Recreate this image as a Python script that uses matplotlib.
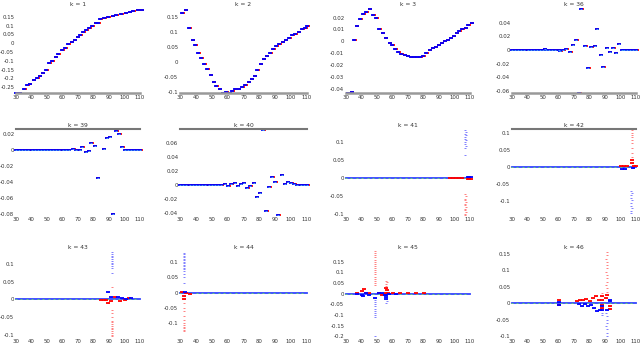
import numpy as np
import matplotlib
matplotlib.use("Agg")
import matplotlib.pyplot as plt

# ---- smooth eigenvectors (k = 1, 2, 3) ----
k1_x = [30, 32.5, 35.1, 37.2, 38.9, 41.4, 43.7, 45.4, 47.3, 49.4, 51.5, 53.4, 55.5, 57.4, 59.6,
        61.7, 63.8, 65.9, 67.8, 69.7, 71.6, 73.5, 75.4, 77.3, 79.2, 81.3, 83.2, 84.3, 86.8, 89.5,
        92.3, 94.8, 98.0, 100.7, 103.3, 105.8, 108.5, 111]
k1_y = [-0.283, -0.283, -0.259, -0.239, -0.232, -0.210, -0.199, -0.186, -0.170, -0.152, -0.115,
        -0.101, -0.079, -0.061, -0.039, -0.025, -0.006, 0.006, 0.021, 0.034, 0.046, 0.061, 0.074,
        0.088, 0.099, 0.114, 0.117, 0.135, 0.143, 0.150, 0.157, 0.163, 0.166, 0.172, 0.177, 0.181,
        0.186, 0.190]

k2_x = [31.5, 33.5, 35.6, 37.9, 39.6, 41.6, 43.5, 45.4, 47.2, 49.3, 51.2, 52.9, 55.1, 57.0, 59.1,
        61.2, 62.8, 64.9, 67.0, 69.1, 71.1, 73.2, 75.1, 77.0, 78.8, 80.9, 82.8, 84.6, 86.7, 88.6,
        90.7, 92.5, 94.6, 96.5, 98.6, 100.6, 102.7, 104.8, 106.9, 108.9, 110]
k2_y = [0.165, 0.174, 0.114, 0.075, 0.057, 0.030, 0.014, -0.008, -0.024, -0.043, -0.068, -0.082,
        -0.092, -0.104, -0.100, -0.103, -0.098, -0.092, -0.090, -0.085, -0.078, -0.068, -0.057,
        -0.046, -0.026, -0.006, 0.011, 0.021, 0.030, 0.043, 0.054, 0.061, 0.066, 0.073, 0.082,
        0.089, 0.095, 0.102, 0.109, 0.115, 0.120]

k3_x = [31.1, 33.6, 35.3, 37.0, 39.2, 41.1, 43.2, 45.4, 47.5, 49.6, 51.5, 53.7, 55.6, 58.2, 59.7,
        61.6, 63.7, 65.8, 67.8, 69.9, 72.0, 73.9, 75.9, 78.0, 79.9, 81.8, 84.0, 85.9, 87.8, 89.7,
        91.7, 93.6, 95.7, 97.6, 99.5, 101.5, 103.2, 105.1, 107.2, 108.9, 111]
k3_y = [-0.043, -0.042, 0.0016, 0.0127, 0.019, 0.0227, 0.0243, 0.0268, 0.0219, 0.020, 0.0105,
        0.007, 0.003, -0.0011, -0.0032, -0.006, -0.0086, -0.0105, -0.0113, -0.0119, -0.0127,
        -0.0132, -0.0132, -0.0127, -0.0119, -0.010, -0.0076, -0.0054, -0.0046, -0.003, -0.0011,
        0.0003, 0.0016, 0.0027, 0.0043, 0.007, 0.0086, 0.010, 0.0114, 0.0135, 0.0154]

# ---- sparse eigenvectors (k = 36, 39, 40) ----
k36_x = [30, 32, 34, 36, 38, 40, 42, 44, 46, 48, 50, 51.1, 52, 54, 56, 58, 60, 61.2, 63, 65, 67.5,
         69.2, 71.3, 73.4, 74.8, 77.2, 79.1, 81.2, 83.3, 84.7, 87.1, 89.0, 91.1, 93.0, 95.1, 97.0,
         98.8, 101.2, 102, 104, 106, 108, 110]
k36_y = [0, 0, 0, 0, 0, 0, 0, 0, 0, 0, 0, 0.001, 0, 0, 0, 0, 0, -0.0014, 0, 0.001, -0.0033,
         0.0066, 0.014, -0.063, 0.060, 0.0052, -0.026, 0.0038, 0.0052, 0.0307, -0.0071, -0.0245,
         0.0024, -0.0038, 0.0033, -0.0052, 0.0085, 0, 0, 0, 0, 0, 0]

k39_x = [30, 32, 34, 36, 38, 40, 42, 44, 46, 48, 50, 52, 54, 56, 58, 60, 62, 64, 67, 69, 71,
         72.9, 75, 76.9, 78.6, 80.7, 82.8, 84.9, 86.5, 88.6, 90.5, 92.4, 94.5, 96.4, 98.7, 100.6,
         102, 104, 106, 108, 110]
k39_y = [0, 0, 0, 0, 0, 0, 0, 0, 0, 0, 0, 0, 0, 0, 0, 0, 0, 0, 0.0017, 0, 0, 0.0037, -0.0025,
         -0.0012, 0.0083, 0.0054, -0.0354, 0.0254, 0.0017, 0.0146, 0.0163, -0.080, 0.0238,
         0.0192, 0.0042, 0, 0, 0, 0, 0, 0]

k40_x = [30, 32, 34, 36, 38, 40, 42, 44, 46, 48, 50, 52, 54, 56, 58.1, 60.3, 62.4, 64.5, 66.4,
         68.3, 70.2, 72.3, 74.2, 76.3, 78.3, 80.2, 82.3, 84.2, 86.3, 88.2, 89.9, 92.0, 94.1, 96.0,
         97.9, 100.1, 102, 104, 106, 108, 110]
k40_y = [0, 0, 0, 0, 0, 0, 0, 0, 0, 0, 0, 0, 0, 0, 0.001, -0.0014, 0.0005, 0.0019, -0.0024,
         0.0005, 0.0029, -0.005, -0.0014, 0.0029, -0.018, -0.0124, 0.0786, -0.0376, -0.0038,
         0.011, 0.0043, -0.0433, 0.0133, 0.001, 0.0033, 0.0024, 0.001, 0, 0, 0, 0]

# ---- localized eigenvectors (k = 41 ... 46): spikes on a zero baseline ----
k41_blue_x = [107.0, 107.2, 106.9, 107.1, 107.0, 106.8, 107.2, 107.0, 106.9, 107.1, 107.0, 106.8,
              108.5, 109.5, 110.5]
k41_blue_y = [0.132, 0.127, 0.122, 0.118, 0.113, 0.108, 0.104, 0.098, 0.094, 0.088, 0.081, 0.062,
              0.002, 0.002, 0.002]
k41_red_x = [106.9, 107.1, 107.0, 106.8, 107.2, 107.0, 106.9, 107.1, 107.0, 106.8, 107.2, 107.0,
             106.9, 97, 99, 101, 103, 105, 108.5, 109.5, 110.5]
k41_red_y = [-0.046, -0.052, -0.058, -0.063, -0.068, -0.072, -0.077, -0.082, -0.087, -0.091,
             -0.096, -0.101, -0.105, -0.002, -0.002, -0.002, -0.002, -0.002, -0.003, -0.003, -0.003]

k42_red_x = [107.3, 107.2, 107.4, 107.3, 107.2, 107.4, 107.3, 107.2, 107.3, 107.4, 107.3,
             100, 102, 104, 109, 110]
k42_red_y = [0.108, 0.100, 0.095, 0.088, 0.080, 0.072, 0.055, 0.042, 0.030, 0.020, 0.012,
             0.003, 0.004, 0.003, 0.004, 0.003]
k42_blue_x = [107.0, 107.1, 106.9, 107.0, 107.1, 106.9, 107.0, 107.1, 107.0, 106.9,
              101, 103, 108]
k42_blue_y = [-0.070, -0.075, -0.082, -0.090, -0.097, -0.104, -0.112, -0.120, -0.128, -0.135,
              -0.004, -0.005, -0.003]

k43_blue_x = [92.0, 92.2, 91.9, 92.1, 92.0, 92.2, 91.9, 92.1, 92.0, 92.2, 91.9,
              89.5, 91, 95.5, 98.5, 101, 104]
k43_blue_y = [0.135, 0.130, 0.125, 0.120, 0.115, 0.110, 0.105, 0.100, 0.095, 0.090, 0.075,
              0.020, 0.006, 0.008, 0.004, 0.002, 0.005]
k43_red_x = [92.1, 92.0, 92.2, 91.9, 92.1, 92.0, 92.2, 91.9, 92.1, 92.0, 92.2, 91.9, 92.1, 92.0,
             85, 86.5, 88, 89.5, 91, 94, 97, 100, 103]
k43_red_y = [0.035, -0.030, -0.040, -0.050, -0.060, -0.065, -0.070, -0.075, -0.080, -0.085,
             -0.090, -0.095, -0.100, -0.105, -0.002, -0.002, -0.002, -0.010, -0.004, 0.006,
             -0.004, -0.003, 0.003]

k44_blue_x = [32.5, 32.7, 32.4, 32.6, 32.5, 32.7, 32.4, 32.6, 32.5, 32.7, 32.4, 32.6, 32.5, 32.7,
              32.4, 32.6, 33]
k44_blue_y = [0.130, 0.125, 0.120, 0.115, 0.110, 0.105, 0.100, 0.095, 0.090, 0.085, 0.080, 0.075,
              0.070, 0.060, 0.050, 0.030, 0.002]
k44_red_x = [32.6, 32.4, 32.5, 32.7, 32.6, 32.4, 32.5, 32.7, 32.6, 32.4, 32.5, 32.7, 32.6,
             31, 34, 36]
k44_red_y = [-0.010, -0.020, -0.035, -0.050, -0.060, -0.075, -0.090, -0.100, -0.105, -0.110,
             -0.115, -0.120, -0.125, 0.001, -0.002, -0.003]

k45_red_x = [48.5, 48.6, 48.4, 48.5, 48.7, 48.5, 48.4, 48.6, 48.5, 48.7, 48.5, 48.4, 48.6, 48.5,
             48.7, 48.5, 48.4,
             56.0, 56.2, 55.9, 56.1, 56.0, 56.2, 55.9,
             37, 40, 41.5, 43, 45, 51, 53, 57, 60, 65, 70, 75, 80]
k45_red_y = [0.200, 0.190, 0.180, 0.170, 0.160, 0.150, 0.140, 0.130, 0.120, 0.110, 0.100, 0.090,
             0.080, 0.070, 0.060, 0.050, 0.040,
             0.005, 0.015, 0.025, 0.035, 0.045, 0.055, 0.060,
             0.003, 0.012, 0.020, 0.005, 0.004, 0.003, -0.005, 0.003, 0.002, 0.002, 0.002,
             0.002, 0.002]
k45_blue_x = [48.4, 48.6, 48.5, 48.7, 48.4, 48.6, 48.5, 48.7, 48.4, 48.6, 48.8,
              56.1, 55.9, 56.0, 56.2, 56.1,
              37, 40, 41, 43, 45, 51, 53, 55, 58, 62]
k45_blue_y = [-0.020, -0.030, -0.040, -0.050, -0.060, -0.070, -0.080, -0.090, -0.100, -0.110,
              -0.200,
              -0.005, -0.015, -0.025, -0.035, -0.045,
              -0.002, -0.006, -0.010, 0.002, -0.004, 0.005, 0.004, -0.005, -0.003, -0.002]

k46_red_x = [91.0, 91.2, 90.9, 91.1, 91.0, 91.2, 90.9, 91.1, 91.0, 91.2, 90.9, 91.1, 91.0, 91.2,
             90.9,
             88.0, 88.2, 87.9, 88.1, 88.0,
             72, 74, 76, 78, 80, 82, 84, 86, 60, 60.3, 93, 93.2]
k46_red_y = [0.155, 0.145, 0.135, 0.125, 0.115, 0.105, 0.095, 0.085, 0.075, 0.065, 0.055, 0.045,
             0.035, 0.025, 0.015,
             0.030, 0.020, 0.010, -0.005, -0.015,
             0.005, 0.010, 0.008, 0.012, 0.005, 0.015, 0.020, 0.010, 0.008, -0.005, -0.010,
             -0.018]
k46_blue_x = [91.1, 90.9, 91.0, 91.2, 91.1, 90.9, 91.0, 91.2, 91.1,
              88.1, 87.9, 88.0, 88.2,
              73, 75, 77, 79, 81, 83, 85, 87, 60, 60.3, 93, 93.2]
k46_blue_y = [-0.020, -0.030, -0.040, -0.050, -0.060, -0.070, -0.080, -0.090, -0.100,
              -0.010, -0.020, -0.030, -0.035,
              -0.003, -0.008, -0.004, -0.010, -0.006, -0.015, -0.025, -0.020, 0.002, -0.006,
              0.010, 0.005]

titles = ["k = 1", "k = 2", "k = 3", "k = 36",
          "k = 39", "k = 40", "k = 41", "k = 42",
          "k = 43", "k = 44", "k = 45", "k = 46"]

yticks = [
    [0.15, 0.1, 0.05, 0, -0.05, -0.1, -0.15, -0.2, -0.25],
    [0.15, 0.1, 0.05, 0, -0.05, -0.1],
    [0.02, 0.01, 0, -0.01, -0.02, -0.03, -0.04],
    [0.04, 0.02, 0, -0.02, -0.04, -0.06],
    [0.02, 0, -0.02, -0.04, -0.06, -0.08],
    [0.06, 0.04, 0.02, 0, -0.02, -0.04],
    [0.1, 0.05, 0, -0.05, -0.1],
    [0.1, 0.05, 0, -0.05, -0.1],
    [0.1, 0.05, 0, -0.05, -0.1],
    [0.1, 0.05, 0, -0.05, -0.1],
    [0.15, 0.1, 0.05, 0, -0.05, -0.1, -0.15, -0.2],
    [0.15, 0.1, 0.05, 0, -0.05, -0.1],
]
ylims = [(-0.283, 0.2), (-0.104, 0.181), (-0.0432, 0.028), (-0.0632, 0.0613),
         (-0.081, 0.026), (-0.0433, 0.0795), (-0.1037, 0.135), (-0.1395, 0.112),
         (-0.107, 0.138), (-0.144, 0.135), (-0.203, 0.2), (-0.103, 0.158)]

xticks = [30, 40, 50, 60, 70, 80, 90, 100, 110]
baseline_x = np.arange(30, 110.5, 0.5)
baseline_y = np.zeros_like(baseline_x)

W, H = 640, 344
fig = plt.figure(figsize=(6.4, 3.44), dpi=100)

col_px = [(16, 140), (180, 307), (346, 470), (512, 636)]
row_px = [(8, 93), (129, 215), (251, 337)]
axes = []
for r in range(3):
    for c in range(4):
        x0, x1 = col_px[c]
        y0, y1 = row_px[r]
        ax = fig.add_axes([x0 / W, 1 - y1 / H, (x1 - x0) / W, (y1 - y0) / H])
        axes.append(ax)

dash = dict(linestyle="none", marker="_", markersize=3.2, markeredgewidth=1.3, clip_on=False)
faint = dict(linestyle="none", marker="_", markersize=1.6, markeredgewidth=0.7, alpha=0.5,
             clip_on=False)

# smooth ones: red under blue
for ax, xs, ys in zip(axes[:3], [k1_x, k2_x, k3_x], [k1_y, k2_y, k3_y]):
    ax.plot(np.array(xs) + 0.4, ys, color="red", **dash)
    ax.plot(xs, ys, color="blue", **dash)

for ax, xs, ys in zip(axes[3:6], [k36_x, k39_x, k40_x], [k36_y, k39_y, k40_y]):
    ax.plot(np.array(xs) + 0.4, ys, color="red", **dash)
    ax.plot(xs, ys, color="blue", **dash)
    ax.plot(xs, ys, color="#55ddff", linestyle="none", marker="_", markersize=1.5,
            markeredgewidth=0.5, clip_on=False)

spikes = [(k41_red_x, k41_red_y, k41_blue_x, k41_blue_y),
          (k42_red_x, k42_red_y, k42_blue_x, k42_blue_y),
          (k43_red_x, k43_red_y, k43_blue_x, k43_blue_y),
          (k44_red_x, k44_red_y, k44_blue_x, k44_blue_y),
          (k45_red_x, k45_red_y, k45_blue_x, k45_blue_y),
          (k46_red_x, k46_red_y, k46_blue_x, k46_blue_y)]
for ax, (rx, ry, bx, by) in zip(axes[6:], spikes):
    ax.plot(baseline_x, baseline_y, color="#3344ff", linewidth=1.3, clip_on=False)
    ax.plot(baseline_x[::7], baseline_y[::7], color="#66dd66", linestyle="none", marker="_",
            markersize=1.5, markeredgewidth=0.6, clip_on=False)
    ax.plot(rx, ry, color="red", **faint)
    ax.plot(bx, by, color="blue", **faint)
    near_r = [(x, y) for x, y in zip(rx, ry) if abs(y) < 0.03]
    near_b = [(x, y) for x, y in zip(bx, by) if abs(y) < 0.03]
    if near_r:
        ax.plot(*zip(*near_r), color="red", **dash)
    if near_b:
        ax.plot(*zip(*near_b), color="blue", **dash)

for i, ax in enumerate(axes):
    ax.set_xlim(30, 110)
    ax.set_ylim(*ylims[i])
    ax.set_xticks(xticks)
    ax.set_xticklabels([str(v) for v in xticks])
    ax.set_yticks(yticks[i])
    ax.set_yticklabels([("%g" % v) for v in yticks[i]])
    ax.tick_params(length=0, labelsize=3.9, pad=1.2, colors="#333333")
    for s in ax.spines.values():
        s.set_visible(False)
    ax.set_title(titles[i], fontsize=4.3, pad=1.5, color="#333333")
    ax.patch.set_alpha(0)

# frame remnants
for ax in axes[:4]:
    ax.spines["bottom"].set_visible(True)
    ax.spines["bottom"].set_color("#999999")
    ax.spines["bottom"].set_linewidth(1.8)
for i in (4, 5, 7):
    axes[i].spines["top"].set_visible(True)
    axes[i].spines["top"].set_color("#777777")
    axes[i].spines["top"].set_linewidth(1.5)

fig.savefig("out.png", dpi=100)
